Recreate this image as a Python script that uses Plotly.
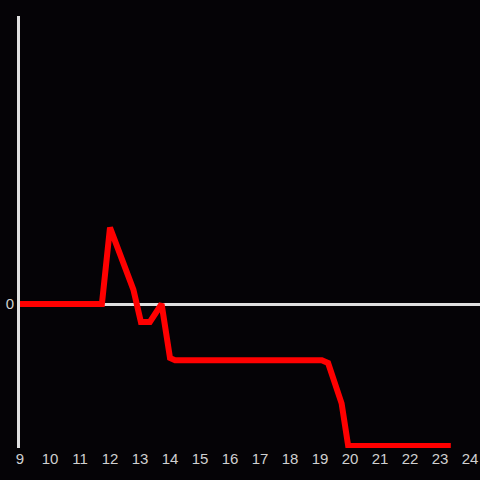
import plotly.graph_objects as go

hours = [9.0, 11.73, 12.0, 12.78, 13.03, 13.33, 13.72, 14.0, 14.17, 19.06, 19.27, 19.72, 19.94, 23.36]
values = [0.0, 0.0, 0.53, 0.1, -0.125, -0.125, 0.0, -0.375, -0.39, -0.39, -0.41, -0.69, -0.986, -0.986]
x_ticks = list(range(9, 25))
y_ticks = [0]

fig = go.Figure()
fig.add_trace(go.Scatter(
    x=hours, y=values, mode="lines",
    line=dict(color="#ff0000", width=6),
    hoverinfo="skip",
))

bg = "#050306"
fig.update_layout(
    width=480, height=480,
    paper_bgcolor=bg, plot_bgcolor=bg,
    margin=dict(l=20, r=0, t=16, b=32),
    showlegend=False,
    font=dict(family="Liberation Sans", size=15, color="#d0d0d0"),
)
fig.update_xaxes(
    range=[9, 24.333], tickvals=x_ticks, ticktext=[str(t) for t in x_ticks],
    showgrid=False, zeroline=False, showline=False, ticks="",
    tickfont=dict(size=15, color="#d0d0d0"),
)
fig.update_yaxes(
    range=[-1, 2], tickvals=y_ticks, ticktext=["0"],
    showgrid=False, zeroline=True, zerolinecolor="#e0e0e0", zerolinewidth=3,
    showline=True, linecolor="#e0e0e0", linewidth=3, ticks="",
    tickfont=dict(size=15, color="#d0d0d0"),
)

fig.write_html(
    "out.html",
    config={"displayModeBar": False},
    post_script="document.body.style.margin='0';document.body.style.background='#050306';",
)
